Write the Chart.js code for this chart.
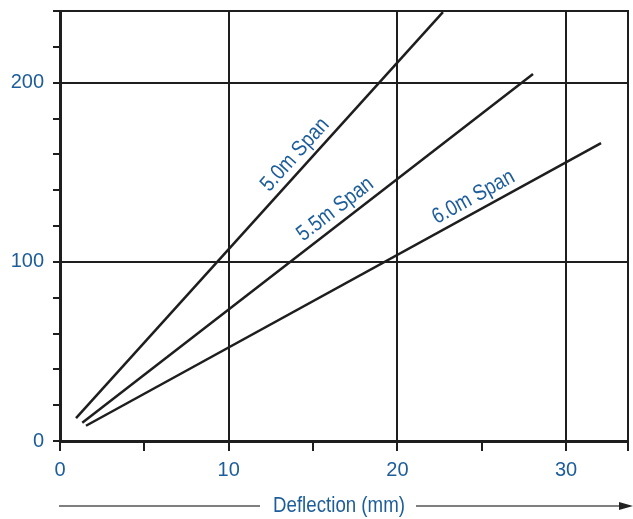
<!DOCTYPE html>
<html>
<head>
<meta charset="utf-8">
<script src="https://cdn.jsdelivr.net/npm/chart.js@4"></script>
<style>
  body { margin: 0; background: #fff; }
  #wrap { width: 633px; height: 519px; }
</style>
</head>
<body>
<div id="wrap"><canvas id="grafico" width="633" height="519"></canvas></div>
<script>
// valores
var spanLabels = ['5.0m Span', '5.5m Span', '6.0m Span'];
var span50x = [0.95, 22.7];
var span50y = [12.8, 239.4];
var span55x = [1.32, 28.04];
var span55y = [10.2, 204.8];
var span60x = [1.54, 32.07];
var span60y = [8.5, 166.3];
var xTicks = [0, 5, 10, 15, 20, 25, 30];
var xMax = 33.67;
var yMax = 240;
var labelAlong = [14.55, 16.83, 24.91]; // x (mm) onde fica o texto de cada linha
var xTitle = 'Deflection (mm)';

var azul = '#1d5d99';
var preto = '#1e1e1e';
var fonte = "'Liberation Sans', Arial, sans-serif";

function pontos(xs, ys) {
    var out = [];
    for (var i = 0; i < xs.length; i++) {
        out.push({ x: xs[i], y: ys[i] });
    }
    return out;
}

var seriesData = [pontos(span50x, span50y), pontos(span55x, span55y), pontos(span60x, span60y)];

// texto estreito (a fonte original e condensada)
function textoEstreito(ctx, txt, x, y) {
    ctx.save();
    ctx.translate(x, y);
    ctx.scale(0.85, 1);
    ctx.fillText(txt, 0, 0);
    ctx.restore();
}

var textos = {
    id: 'textos',
    afterDraw: function (chart) {
        var ctx = chart.ctx;
        var sx = chart.scales.x;
        var sy = chart.scales.y;
        ctx.save();
        // linha de cima da moldura (valor maximo do eixo y)
        var yTop = sy.getPixelForValue(yMax);
        ctx.fillStyle = preto;
        ctx.fillRect(sx.getPixelForValue(0) - 7, yTop - 1, sx.getPixelForValue(xMax) - sx.getPixelForValue(0) + 8, 2);

        ctx.fillStyle = azul;
        ctx.font = '22px ' + fonte;
        ctx.textAlign = 'center';
        ctx.textBaseline = 'middle';
        // rotulos das linhas, paralelos a cada linha
        for (var i = 0; i < seriesData.length; i++) {
            var d = seriesData[i];
            var x1 = sx.getPixelForValue(d[0].x), y1 = sy.getPixelForValue(d[0].y);
            var x2 = sx.getPixelForValue(d[1].x), y2 = sy.getPixelForValue(d[1].y);
            var ang = Math.atan2(y2 - y1, x2 - x1);
            var px = sx.getPixelForValue(labelAlong[i]);
            var py = y1 + (px - x1) * (y2 - y1) / (x2 - x1);
            var cx = px + 14 * Math.sin(ang);
            var cy = py - 14 * Math.cos(ang);
            ctx.save();
            ctx.translate(cx, cy);
            ctx.rotate(ang);
            textoEstreito(ctx, spanLabels[i], 0, 0);
            ctx.restore();
        }
        // titulo do eixo x com a seta
        var tx = 339, ty = 506;
        textoEstreito(ctx, xTitle, tx, ty);
        var w = ctx.measureText(xTitle).width * 0.85;
        ctx.strokeStyle = '#555';
        ctx.lineWidth = 1.5;
        ctx.beginPath();
        ctx.moveTo(59, ty);
        ctx.lineTo(tx - w / 2 - 13, ty);
        ctx.moveTo(tx + w / 2 + 11, ty);
        ctx.lineTo(622, ty);
        ctx.stroke();
        ctx.fillStyle = '#222';
        ctx.beginPath();
        ctx.moveTo(633, ty);
        ctx.lineTo(619, ty - 4);
        ctx.lineTo(619, ty + 4);
        ctx.closePath();
        ctx.fill();
        ctx.restore();
    }
};

new Chart(document.getElementById('grafico'), {
    type: 'line',
    data: {
        datasets: seriesData.map(function (d, i) {
            return {
                label: spanLabels[i],
                data: d,
                borderColor: preto,
                borderWidth: 2.5,
                pointRadius: 0,
                tension: 0
            };
        })
    },
    options: {
        responsive: false,
        animation: false,
        devicePixelRatio: 1,
        layout: { padding: { top: 11, right: 5, left: 0, bottom: 0 } },
        plugins: { legend: { display: false }, tooltip: { enabled: false } },
        scales: {
            x: {
                type: 'linear',
                min: 0,
                max: xMax,
                afterBuildTicks: function (scale) {
                    scale.ticks = xTicks.concat([xMax]).map(function (v) { return { value: v }; });
                },
                afterFit: function (scale) {
                    scale.height = 78;
                    scale.paddingLeft = 0;
                    scale.paddingRight = 0;
                },
                ticks: {
                    color: azul,
                    font: { family: fonte, size: 20 },
                    padding: 7,
                    maxRotation: 0,
                    autoSkip: false,
                    callback: function (v) { return v % 10 === 0 ? String(v) : ''; }
                },
                grid: {
                    color: function (c) {
                        if (!c.tick) return 'rgba(0,0,0,0)';
                        var v = c.tick.value;
                        return (v % 10 === 0 || v === xMax) ? preto : 'rgba(0,0,0,0)';
                    },
                    tickColor: preto,
                    lineWidth: 2,
                    tickWidth: 2,
                    tickLength: 10
                },
                border: { color: preto, width: 3 }
            },
            y: {
                min: 0,
                max: yMax,
                afterFit: function (scale) {
                    scale.width = 60;
                    scale.paddingTop = 0;
                    scale.paddingBottom = 0;
                },
                ticks: {
                    stepSize: 20,
                    color: azul,
                    font: { family: fonte, size: 20 },
                    padding: 9,
                    callback: function (v) { return v % 100 === 0 ? String(v) : ''; }
                },
                grid: {
                    color: function (c) {
                        if (!c.tick) return 'rgba(0,0,0,0)';
                        var v = c.tick.value;
                        return (v % 100 === 0 || v === yMax) ? preto : 'rgba(0,0,0,0)';
                    },
                    tickColor: preto,
                    lineWidth: 2,
                    tickWidth: 2,
                    tickLength: 7
                },
                border: { color: preto, width: 3 }
            }
        }
    },
    plugins: [textos]
});
</script>
</body>
</html>
